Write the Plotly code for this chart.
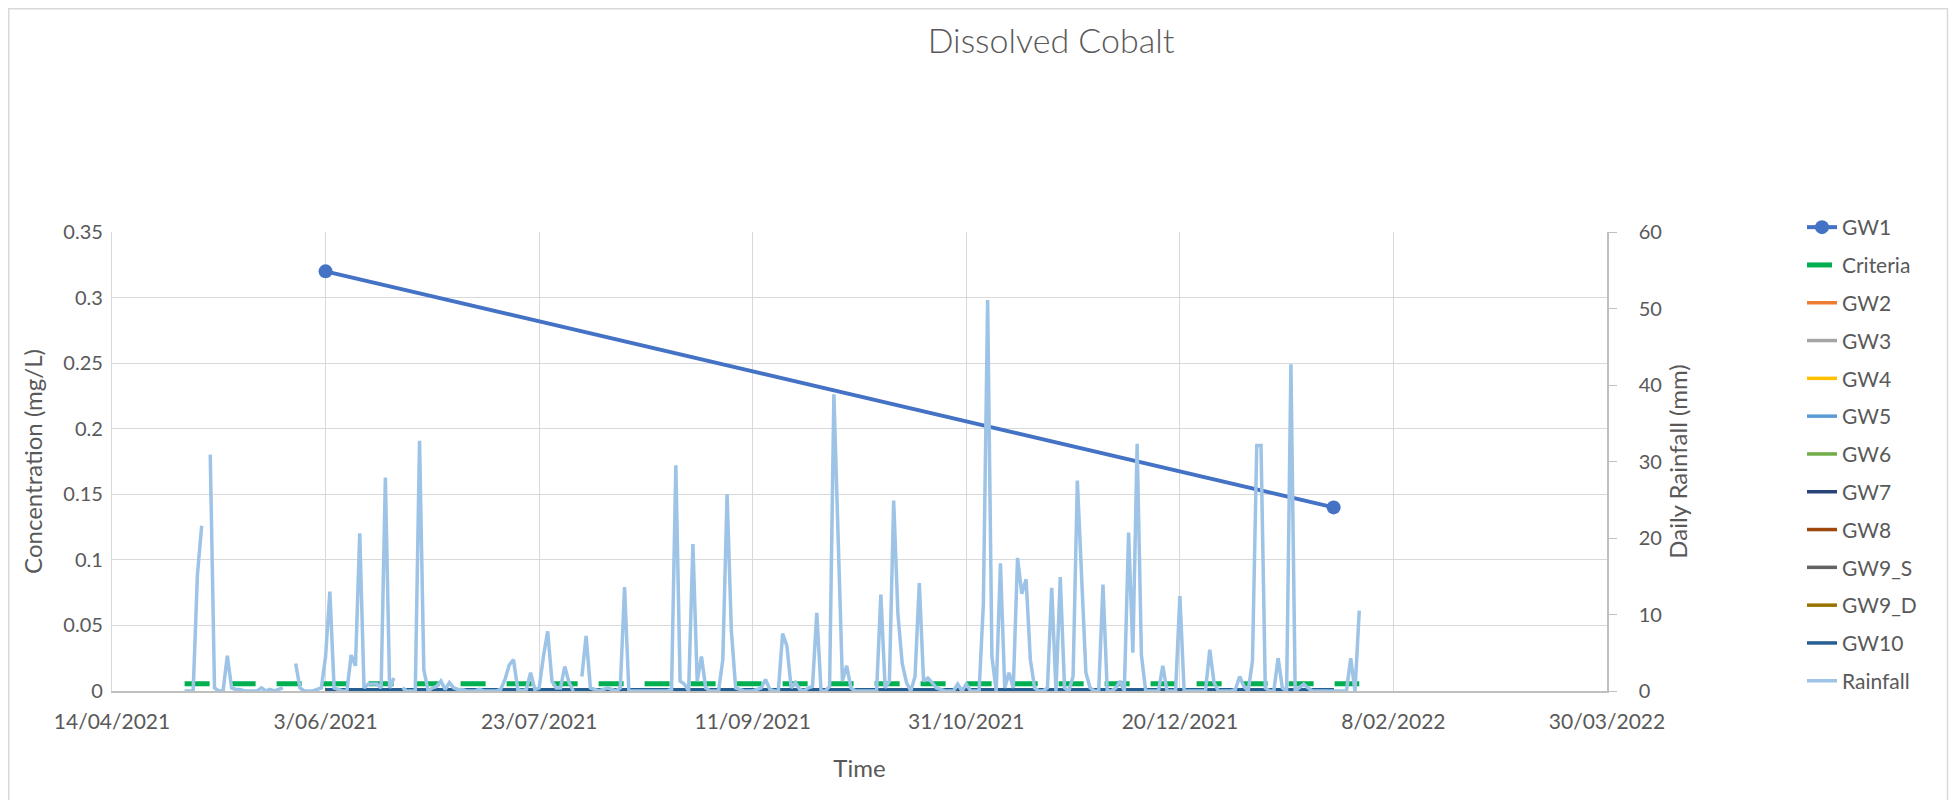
import pandas as pd
import plotly.graph_objects as go

# ── Data ──────────────────────────────────────────────────
sample_dates = ["2021-06-03", "2022-01-25"]
gw1 = [0.32, 0.14]
gw2 = [0.001, 0.001]
gw3 = [0.001, 0.001]
gw4 = [0.001, 0.001]
gw5 = [0.001, 0.001]
gw6 = [0.001, 0.001]
gw7 = [0.001, 0.001]
gw8 = [0.001, 0.001]
gw9_s = [0.001, 0.001]
gw9_d = [0.001, 0.001]
gw10 = [0.001, 0.001]

criteria_dates = ["2021-05-01", "2022-01-31"]
criteria = [0.0055, 0.0055]

# daily rainfall (mm) from 1 May 2021, None = no record
rain_start = "2021-05-01"
rainfall = [
    0, 0, 0, 15.2, 21.6, None, 30.9, 0.4, 0, 0,
    4.6, 0.4, 0.2, 0.2, 0, 0, 0, 0, 0.4, 0,
    0.2, 0, 0.2, 0.4, None, None, 3.6, 0.4, 0, 0,
    0, 0.2, 0.4, 4.5, 13.0, 0.4, 0.2, 0, 0, 4.7,
    3.3, 20.6, 0.4, 0.9, 0.9, 0.9, 0.4, 27.9, 0.4, 1.7,
    None, 0.4, 0, 0, 0, 32.7, 2.8, 0, 0.4, 0.6,
    1.3, 0.2, 1.1, 0.4, 0.2, 0.2, 0, 0, 0, 0.2,
    0, 0, 0, 0, 0.2, 1.5, 3.4, 4.1, 0.2, 0,
    0.2, 2.4, 0.2, 0.4, 4.5, 7.8, 1.3, 0.4, 0.4, 3.2,
    1.1, 0, None, 1.9, 7.2, 0.4, 0.2, 0, 0.2, 0.4,
    0.2, 0, 0.4, 13.6, 0, 0, 0, 0, 0, 0,
    0, 0, 0, 0, 0.2, 29.5, 1.3, 0.9, 0, 19.2,
    1.3, 4.5, 0.4, 0, 0, 0, 4.1, 25.7, 7.9, 0.4,
    0.2, 0, 0, 0, 0.2, 0.4, 1.5, 0.2, 0, 0,
    7.5, 5.9, 0.4, 1.1, 0.2, 0, 0.4, 0.6, 10.2, 0,
    0, 0.6, 38.8, 19.9, 1.3, 3.3, 0.4, 0, 0, 0,
    0, 0, 0, 12.6, 0.4, 1.3, 24.9, 10.0, 3.6, 1.1,
    0, 1.9, 14.1, 1.3, 1.7, 1.1, 0.4, 0.2, 0, 0,
    0, 0.9, 0, 0.9, 0, 0, 0, 11.4, 51.1, 4.5,
    0, 16.7, 0.4, 2.4, 0.4, 17.4, 12.7, 14.6, 4.1, 0.4,
    0, 0, 0.4, 13.5, 0, 14.9, 0.4, 0, 1.9, 27.5,
    14.8, 2.4, 0.4, 0, 0, 13.9, 0, 0, 0.4, 1.3,
    0, 20.7, 5.0, 32.3, 4.7, 0, 0, 0, 0, 3.3,
    0, 0, 0, 12.4, 0, 0, 0, 0, 0, 0,
    5.4, 1.1, 0, 0, 0, 0, 0.2, 1.9, 0.6, 0,
    3.9, 32.1, 32.1, 0.4, 0, 0, 4.3, 0.4, 0, 42.7,
    0, 0.4, 0.9, 0.4, 0, 0, 0, 0, 0, 0,
    0, 0, 0, 4.3, 0, 10.5,
]
rain_dates = pd.date_range(rain_start, periods=len(rainfall), freq="D")

x_tickvals = ["2021-04-14", "2021-06-03", "2021-07-23", "2021-09-11",
              "2021-10-31", "2021-12-20", "2022-02-08", "2022-03-30"]
x_ticktext = ["14/04/2021", "3/06/2021", "23/07/2021", "11/09/2021",
              "31/10/2021", "20/12/2021", "8/02/2022", "30/03/2022"]

# ── Figure ────────────────────────────────────────────────
# page body has an 8px margin, so the figure is 16px smaller than the window
W, H = 1941, 792
ML, MT = 104, 224
PW, PH = 1495, 459
MR, MB = W - ML - PW, H - MT - PH
FONT = "Lato, 'Open Sans', sans-serif"
TXT = "#595959"
GRID = "#D9D9D9"

fig = go.Figure()

fig.add_trace(go.Scatter(
    x=sample_dates, y=gw1, name="GW1", mode="lines+markers",
    line=dict(color="#4472C4", width=4),
    marker=dict(color="#4472C4", size=14),
))
fig.add_trace(go.Scatter(
    x=criteria_dates, y=criteria, name="Criteria", mode="lines",
    line=dict(color="#00B050", width=5, dash="25px,21px"),
))

wells = [
    ("GW2", gw2, "#ED7D31"), ("GW3", gw3, "#A5A5A5"), ("GW4", gw4, "#FFC000"),
    ("GW5", gw5, "#5B9BD5"), ("GW6", gw6, "#70AD47"), ("GW7", gw7, "#264478"),
    ("GW8", gw8, "#9E480E"), ("GW9_S", gw9_s, "#636363"),
    ("GW9_D", gw9_d, "#997300"), ("GW10", gw10, "#255E91"),
]
for name, vals, clr in wells:
    fig.add_trace(go.Scatter(
        x=sample_dates, y=vals, name=name, mode="lines",
        line=dict(color=clr, width=3.5),
    ))

fig.add_trace(go.Scatter(
    x=rain_dates, y=rainfall, name="Rainfall", mode="lines", yaxis="y2",
    line=dict(color="#9DC3E6", width=3.5), connectgaps=False,
))

# one legend group per trace so tracegroupgap spaces the entries
for i, tr in enumerate(fig.data):
    tr.legendgroup = f"g{i}"

fig.update_layout(
    width=W, height=H,
    margin=dict(l=ML, r=MR, t=MT, b=MB, autoexpand=False),
    paper_bgcolor="white", plot_bgcolor="white",
    font=dict(family=FONT, size=21, color=TXT),
    title=dict(text="Dissolved Cobalt",
               font=dict(size=34, color=TXT, weight=300),
               x=1043 / W, xref="container", xanchor="center",
               y=1 - 33 / H, yref="container", yanchor="middle"),
    showlegend=True,
    legend=dict(
        x=1794 / W, xref="container", xanchor="left",
        y=1 - 199 / H, yref="container", yanchor="top",
        font=dict(size=21, color=TXT), tracegroupgap=7.5,
        bgcolor="rgba(0,0,0,0)", maxheight=580,
    ),
    xaxis=dict(
        type="date", range=["2021-04-14", "2022-03-30"],
        tickvals=x_tickvals, ticktext=x_ticktext,
        showgrid=True, gridcolor=GRID, gridwidth=1.3,
        showline=True, linecolor="#BFBFBF", linewidth=1.5,
        ticks="", ticklabelstandoff=11,
        title=dict(text="Time", font=dict(size=24), standoff=28),
        zeroline=False,
    ),
    yaxis=dict(
        range=[0, 0.35], dtick=0.05, tick0=0,
        showgrid=True, gridcolor=GRID, gridwidth=1.3,
        showline=True, linecolor=GRID, linewidth=1.3,
        ticks="", ticklabelstandoff=4, zeroline=False,
        tickfont=dict(size=20),
        title=dict(text="Concentration (mg/L)", font=dict(size=24), standoff=13),
    ),
    yaxis2=dict(
        overlaying="y", side="right", range=[0, 60], dtick=10, tick0=0,
        showgrid=False, zeroline=False,
        showline=True, linecolor="#BFBFBF", linewidth=1.5,
        ticks="outside", ticklen=8, tickcolor="#BFBFBF", tickwidth=1.3,
        ticklabelstandoff=18, tickfont=dict(size=20),
        title=dict(text="Daily Rainfall (mm)", font=dict(size=24), standoff=9),
    ),
    hovermode="x unified",
)

# chart-area border (bottom edge falls below the page)
fig.add_shape(
    type="rect", xref="paper", yref="paper",
    x0=(0.75 - ML) / PW, x1=(1939.5 - ML) / PW,
    y0=(H - MB - 805) / PH, y1=(H - MB - 0.75) / PH,
    line=dict(color=GRID, width=1.5), fillcolor="rgba(0,0,0,0)", layer="below",
)

fig.write_html("out.html")
